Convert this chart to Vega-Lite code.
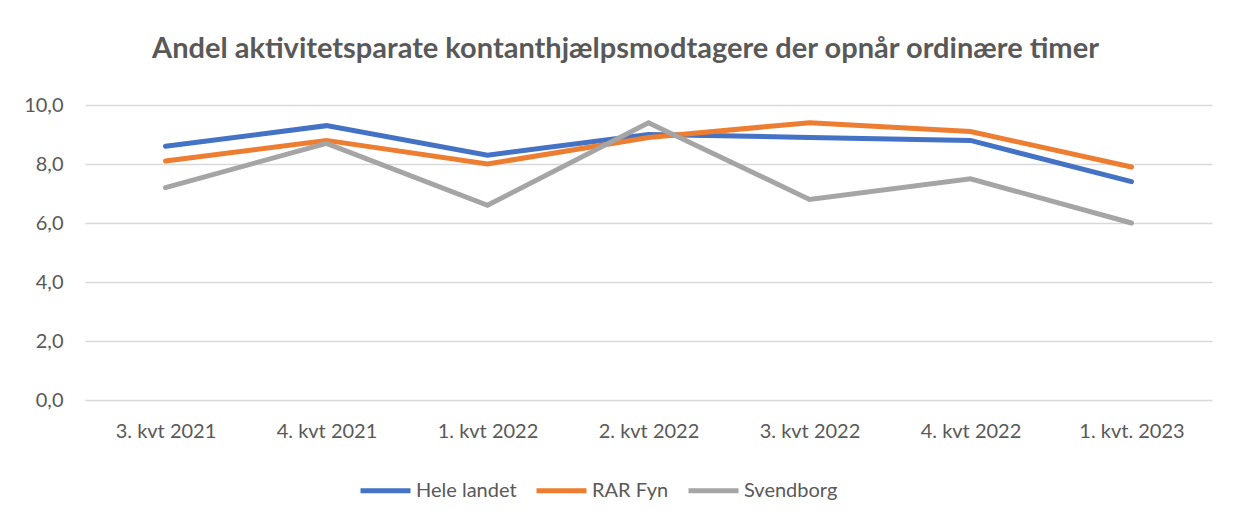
{
  "$schema": "https://vega.github.io/schema/vega-lite/v6.json",
  "width": 1127,
  "height": 295,
  "autosize": {"type": "none"},
  "padding": {"left": 85, "top": 105, "right": 25, "bottom": 115},
  "background": "white",
  "config": {
    "view": {"stroke": null},
    "font": "Lato"
  },
  "title": {
    "text": "Andel aktivitetsparate kontanthjælpsmodtagere der opnår ordinære timer",
    "font": "Lato",
    "fontSize": 29,
    "fontWeight": "bold",
    "color": "#595959",
    "anchor": "middle",
    "dx": -23,
    "offset": 31
  },
  "data": {
    "values": [
      {"kvartal": "3. kvt 2021", "serie": "Hele landet", "andel": 8.6},
      {"kvartal": "4. kvt 2021", "serie": "Hele landet", "andel": 9.3},
      {"kvartal": "1. kvt 2022", "serie": "Hele landet", "andel": 8.3},
      {"kvartal": "2. kvt 2022", "serie": "Hele landet", "andel": 9.0},
      {"kvartal": "3. kvt 2022", "serie": "Hele landet", "andel": 8.9},
      {"kvartal": "4. kvt 2022", "serie": "Hele landet", "andel": 8.8},
      {"kvartal": "1. kvt. 2023", "serie": "Hele landet", "andel": 7.4},
      {"kvartal": "3. kvt 2021", "serie": "RAR Fyn", "andel": 8.1},
      {"kvartal": "4. kvt 2021", "serie": "RAR Fyn", "andel": 8.8},
      {"kvartal": "1. kvt 2022", "serie": "RAR Fyn", "andel": 8.0},
      {"kvartal": "2. kvt 2022", "serie": "RAR Fyn", "andel": 8.9},
      {"kvartal": "3. kvt 2022", "serie": "RAR Fyn", "andel": 9.4},
      {"kvartal": "4. kvt 2022", "serie": "RAR Fyn", "andel": 9.1},
      {"kvartal": "1. kvt. 2023", "serie": "RAR Fyn", "andel": 7.9},
      {"kvartal": "3. kvt 2021", "serie": "Svendborg", "andel": 7.2},
      {"kvartal": "4. kvt 2021", "serie": "Svendborg", "andel": 8.7},
      {"kvartal": "1. kvt 2022", "serie": "Svendborg", "andel": 6.6},
      {"kvartal": "2. kvt 2022", "serie": "Svendborg", "andel": 9.4},
      {"kvartal": "3. kvt 2022", "serie": "Svendborg", "andel": 6.8},
      {"kvartal": "4. kvt 2022", "serie": "Svendborg", "andel": 7.5},
      {"kvartal": "1. kvt. 2023", "serie": "Svendborg", "andel": 6.0}
    ]
  },
  "mark": {"type": "line", "strokeWidth": 5, "strokeCap": "round"},
  "encoding": {
    "x": {
      "field": "kvartal",
      "type": "ordinal",
      "sort": ["3. kvt 2021", "4. kvt 2021", "1. kvt 2022", "2. kvt 2022", "3. kvt 2022", "4. kvt 2022", "1. kvt. 2023"],
      "scale": {"type": "point", "padding": 0.5},
      "axis": {
        "title": null,
        "labelAngle": 0,
        "domain": false,
        "ticks": false,
        "grid": false,
        "labelFont": "Lato",
        "labelFontSize": 20,
        "labelColor": "#595959",
        "labelPadding": 21
      }
    },
    "y": {
      "field": "andel",
      "type": "quantitative",
      "scale": {"domain": [0, 10], "nice": false},
      "axis": {
        "title": null,
        "values": [0, 2, 4, 6, 8, 10],
        "labelExpr": "replace(format(datum.value, '.1f'), '.', ',')",
        "domain": false,
        "ticks": false,
        "gridColor": "#d9d9d9",
        "gridWidth": 1.5,
        "labelFont": "Lato",
        "labelFontSize": 20,
        "labelColor": "#595959",
        "labelPadding": 22
      }
    },
    "color": {
      "field": "serie",
      "type": "nominal",
      "scale": {"domain": ["Hele landet", "RAR Fyn", "Svendborg"], "range": ["#4472C4", "#ED7D31", "#A5A5A5"]},
      "legend": {
        "title": null,
        "orient": "none",
        "direction": "horizontal",
        "legendX": 273,
        "legendY": 358,
        "padding": 0,
        "symbolType": "stroke",
        "symbolSize": 2500,
        "symbolStrokeWidth": 5,
        "labelFont": "Lato",
        "labelFontSize": 20,
        "labelColor": "#595959",
        "labelOffset": 3,
        "columnPadding": 9
      }
    }
  }
}
